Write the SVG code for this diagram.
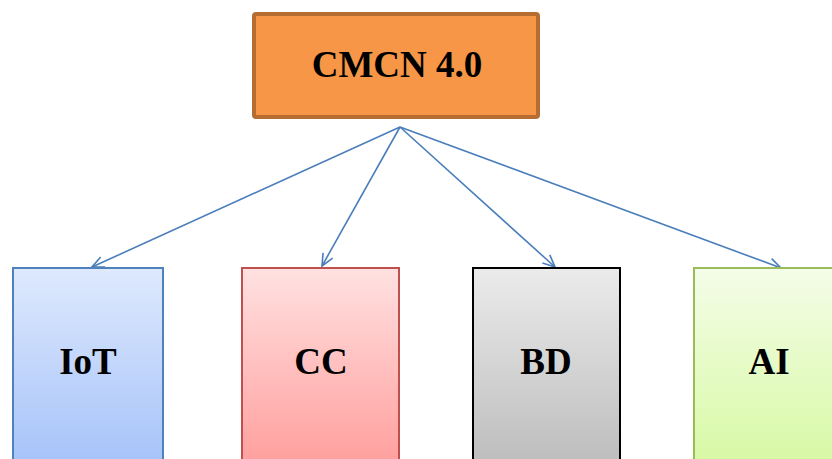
<svg xmlns="http://www.w3.org/2000/svg" width="832" height="459" viewBox="0 0 832 459">
<style>
.lbl{font-family:"Liberation Serif","Times New Roman",serif;font-weight:bold;font-size:37px;fill:#000;text-anchor:middle}
.conn{stroke:#4a7ebb;stroke-width:1.6;fill:none;marker-end:url(#arr)}
</style>
<defs>
<marker id="arr" viewBox="0 0 14 14" refX="13" refY="7" markerWidth="14" markerHeight="14" markerUnits="userSpaceOnUse" orient="auto">
<path d="M1,1.5 L13,7 L1,12.5" fill="none" stroke="#4a7ebb" stroke-width="1.6"/>
</marker>
<linearGradient id="gB" x1="0" y1="0" x2="0" y2="1"><stop offset="0" stop-color="#dee9fd"/><stop offset="1" stop-color="#a5c2f9"/></linearGradient>
<linearGradient id="gR" x1="0" y1="0" x2="0" y2="1"><stop offset="0" stop-color="#ffe1e1"/><stop offset="1" stop-color="#ff9e9c"/></linearGradient>
<linearGradient id="gG" x1="0" y1="0" x2="0" y2="1"><stop offset="0" stop-color="#ebebeb"/><stop offset="1" stop-color="#bcbcbc"/></linearGradient>
<linearGradient id="gL" x1="0" y1="0" x2="0" y2="1"><stop offset="0" stop-color="#f4fde8"/><stop offset="1" stop-color="#d7f9a3"/></linearGradient>
</defs>
<g id="connectors">
<line class="conn" x1="400" y1="127" x2="92" y2="267"/>
<line class="conn" x1="400" y1="127" x2="322" y2="266"/>
<line class="conn" x1="400" y1="127" x2="555" y2="267"/>
<line class="conn" x1="400" y1="127" x2="781" y2="268"/>
</g>
<g id="cmcn">
<rect x="254" y="14" width="284" height="103" rx="2" fill="#f79646" stroke="#b66d31" stroke-width="4"/>
<text class="lbl" x="397" y="77">CMCN 4.0</text>
</g>
<g id="iot">
<rect x="13" y="268" width="150" height="200" fill="url(#gB)" stroke="#4f81bd" stroke-width="2"/>
<text class="lbl" x="88" y="374">IoT</text>
</g>
<g id="cc">
<rect x="242" y="268" width="157" height="200" fill="url(#gR)" stroke="#c0504d" stroke-width="2"/>
<text class="lbl" x="321" y="374">CC</text>
</g>
<g id="bd">
<rect x="473" y="268" width="147" height="200" fill="url(#gG)" stroke="#000" stroke-width="2"/>
<text class="lbl" x="546" y="374">BD</text>
</g>
<g id="ai">
<rect x="694" y="268" width="152" height="200" fill="url(#gL)" stroke="#9bbb59" stroke-width="2"/>
<text class="lbl" x="769" y="374">AI</text>
</g>
</svg>
